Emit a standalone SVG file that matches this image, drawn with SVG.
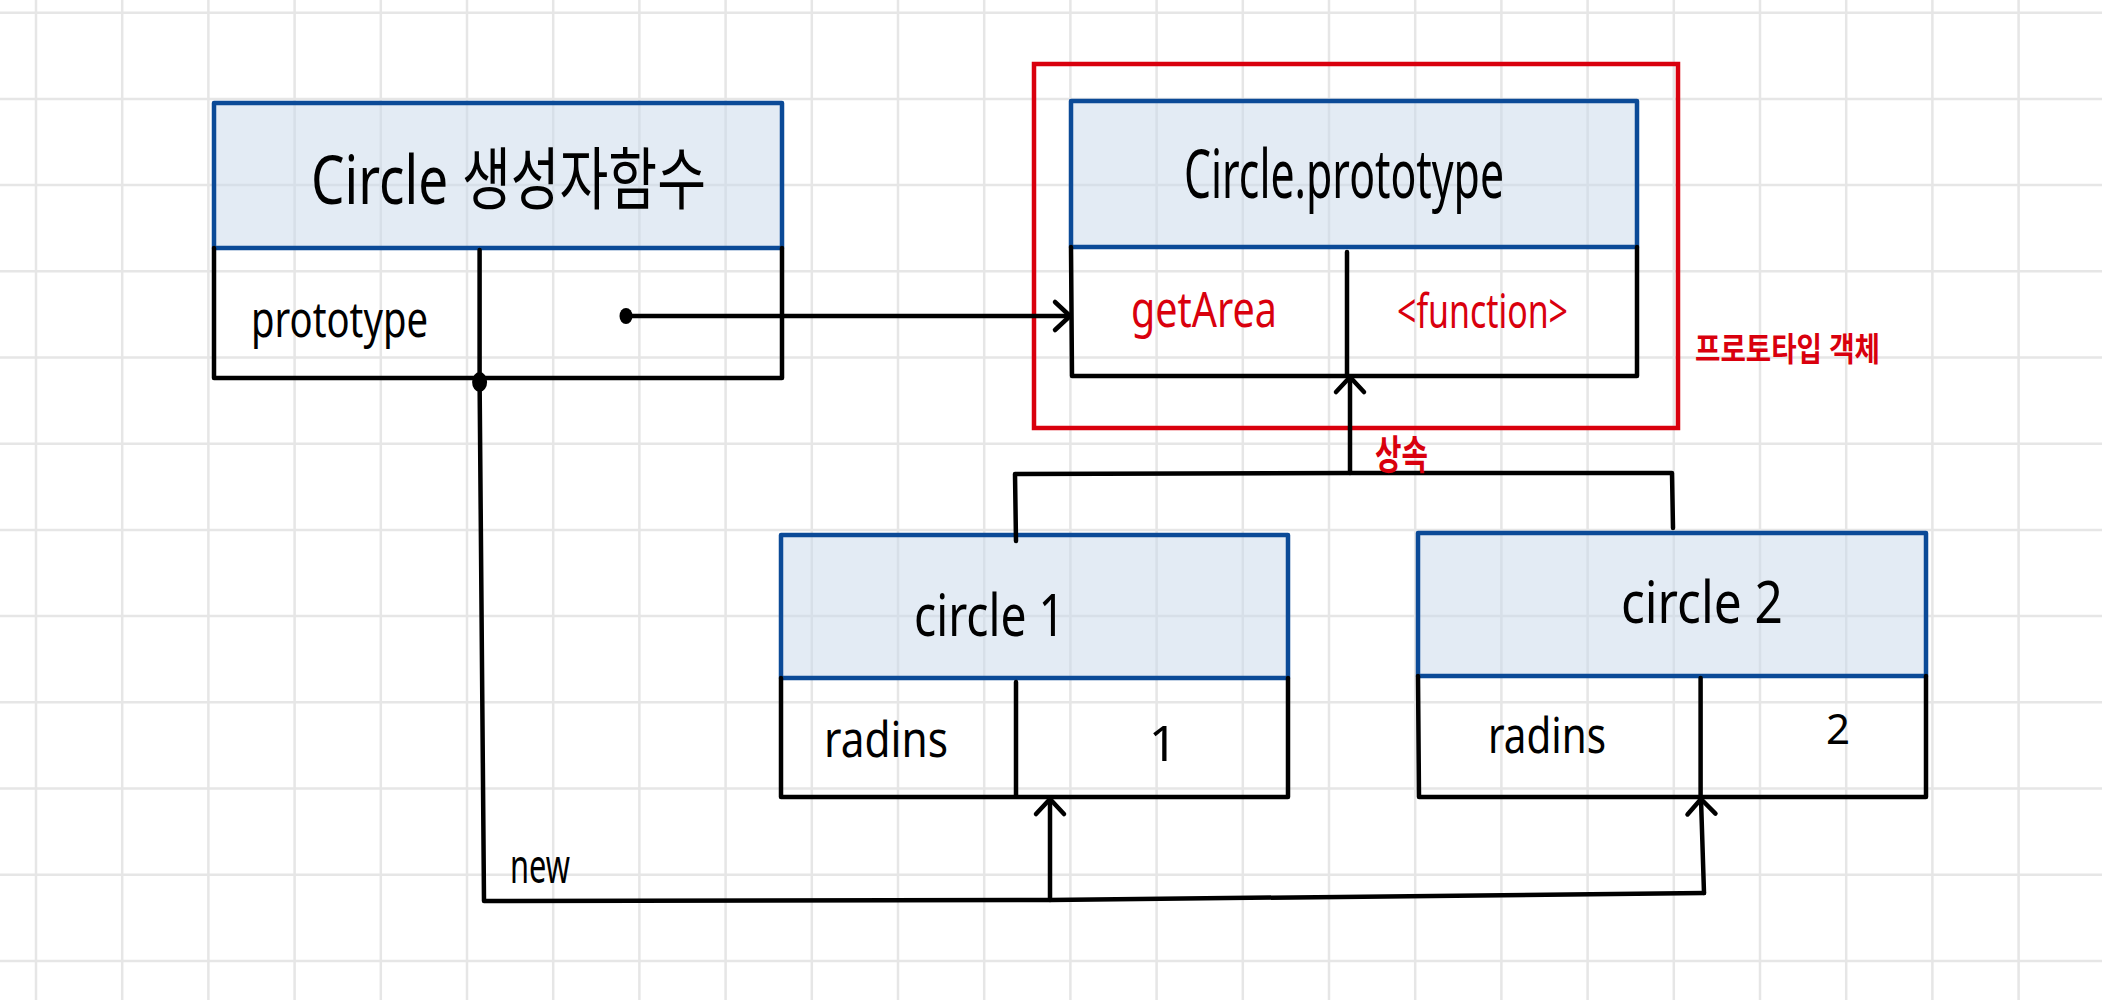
<svg xmlns="http://www.w3.org/2000/svg" width="2102" height="1000" viewBox="0 0 2102 1000">
<style>
.grid{stroke:#e6e6e6;stroke-width:2.5;fill:none}
.hdr{fill:#c8d7ea;fill-opacity:0.5;stroke:#0b4a97;stroke-width:4.5;stroke-linejoin:round}
.body{fill:none;stroke:#000;stroke-width:4.5;stroke-linejoin:round;stroke-linecap:round}
.con{fill:none;stroke:#000;stroke-width:4.5;stroke-linejoin:round;stroke-linecap:round}
.t{font-family:"Noto Sans","Noto Sans CJK KR",sans-serif;fill:#000}
.r{fill:#d9000d}
.b{font-weight:bold}
.frame{fill:none;stroke:#d9000d;stroke-width:4.5}
</style>
<defs>
<marker id="chev" markerUnits="userSpaceOnUse" markerWidth="40" markerHeight="40" viewBox="-20 -20 40 40" refX="0" refY="0" orient="auto">
<path d="M-15,-14 L0,0 L-15,14" fill="none" stroke="#000" stroke-width="4.5" stroke-linecap="round" stroke-linejoin="round"/>
</marker>
</defs>
<rect width="2102" height="1000" fill="#fff"/>
<path class="grid" d="M36,0V1000M122.2,0V1000M208.4,0V1000M294.6,0V1000M380.8,0V1000M467,0V1000M553.2,0V1000M639.4,0V1000M725.6,0V1000M811.8,0V1000M898,0V1000M984.2,0V1000M1070.4,0V1000M1156.6,0V1000M1242.8,0V1000M1329,0V1000M1415.2,0V1000M1501.4,0V1000M1587.6,0V1000M1673.8,0V1000M1760,0V1000M1846.2,0V1000M1932.4,0V1000M2018.6,0V1000M0,12.7H2102M0,98.9H2102M0,185.1H2102M0,271.3H2102M0,357.5H2102M0,443.7H2102M0,529.9H2102M0,616.1H2102M0,702.3H2102M0,788.5H2102M0,874.7H2102M0,960.9H2102"/>

<g id="prototype-frame">
<rect class="frame" x="1034" y="64" width="644" height="364"/>
<text class="t r b" x="1695" y="361" font-size="33" textLength="185" lengthAdjust="spacingAndGlyphs">프로토타입 객체</text>
</g>

<g id="circle-constructor">
<rect class="hdr" x="214" y="103" width="568" height="145"/>
<path class="body" d="M214,248 L214,378 L782,378 L782,248 M479.6,250 L479.6,378"/>
<text class="t" x="311" y="204" font-size="68" textLength="395" lengthAdjust="spacingAndGlyphs">Circle 생성자함수</text>
<text class="t" x="251" y="337" font-size="50" textLength="177" lengthAdjust="spacingAndGlyphs">prototype</text>
</g>

<g id="circle-prototype">
<rect class="hdr" x="1071" y="101" width="566" height="146"/>
<path class="body" d="M1071,247 L1072,376 L1637,376 L1637,247 M1347,252 L1347,376"/>
<text class="t" x="1184" y="198" font-size="68" textLength="320" lengthAdjust="spacingAndGlyphs">Circle.prototype</text>
<text class="t r" x="1131" y="327" font-size="50" textLength="146" lengthAdjust="spacingAndGlyphs">getArea</text>
<text class="t r" x="1397" y="328" font-size="48" textLength="171" lengthAdjust="spacingAndGlyphs">&lt;function&gt;</text>
</g>

<g id="circle1">
<rect class="hdr" x="781" y="535" width="507" height="143"/>
<path class="body" d="M781,678 L781,797 L1288,797 L1288,678 M1016,682 L1016,797"/>
<text class="t" x="914" y="636" font-size="58" textLength="151" lengthAdjust="spacingAndGlyphs">circle 1</text>
<text class="t" x="824" y="757" font-size="50" textLength="124" lengthAdjust="spacingAndGlyphs">radins</text>
<text class="t" x="1163" y="761" font-size="50" text-anchor="middle">1</text>
</g>

<g id="circle2">
<rect class="hdr" x="1418" y="533" width="508" height="143"/>
<path class="body" d="M1418,676 L1419,797 L1926,797 L1926,676 M1700.6,678 L1700.6,797"/>
<text class="t" x="1621" y="623" font-size="58" textLength="162" lengthAdjust="spacingAndGlyphs">circle 2</text>
<text class="t" x="1488" y="753" font-size="50" textLength="118" lengthAdjust="spacingAndGlyphs">radins</text>
<text class="t" x="1838" y="744" font-size="42" text-anchor="middle">2</text>
</g>

<g id="connectors">
<ellipse cx="626" cy="316" rx="6.5" ry="8"/>
<line class="con" x1="626" y1="316" x2="1070" y2="316" marker-end="url(#chev)"/>
<ellipse cx="479.6" cy="382" rx="7.5" ry="10"/>
<path class="con" d="M479.6,382 L484,901 L1050,900 L1704,893"/>
<line class="con" x1="1050" y1="900" x2="1050" y2="799" marker-end="url(#chev)"/>
<line class="con" x1="1704" y1="893" x2="1701" y2="799" marker-end="url(#chev)"/>
<text class="t" x="510" y="883" font-size="48" textLength="60" lengthAdjust="spacingAndGlyphs">new</text>
<path class="con" d="M1016,541 L1015,474 L1350,473 L1672,473 L1673,528"/>
<line class="con" x1="1350" y1="473" x2="1350" y2="377" marker-end="url(#chev)"/>
<text class="t r b" x="1375" y="469" font-size="40" textLength="53" lengthAdjust="spacingAndGlyphs">상속</text>
</g>
</svg>
